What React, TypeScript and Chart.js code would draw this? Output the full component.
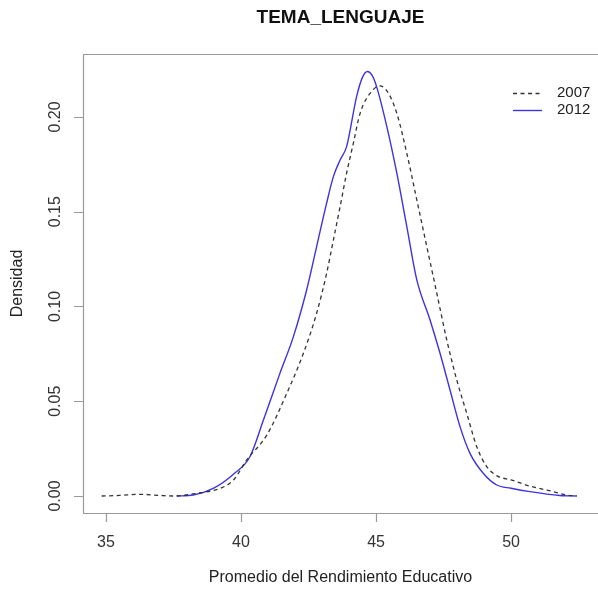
import React, { useEffect, useRef } from "react";
import { Chart, registerables } from "chart.js";

Chart.register(...registerables);

const TITLE = "TEMA_LENGUAJE";
const X_TITLE = "Promedio del Rendimiento Educativo";
const Y_TITLE = "Densidad";
const SERIES_NAMES = ["2007", "2012"];
const X_TICKS = [35, 40, 45, 50];
const Y_TICKS = [0, 0.05, 0.1, 0.15, 0.2];
const Y_TICK_LABELS = ["0.00", "0.05", "0.10", "0.15", "0.20"];

const X_2007 = [
  34.84, 35.5, 36.26, 37.0, 37.5, 38.36, 39.22, 39.72, 40.21, 40.95, 41.69, 42.31,
  42.8, 43.17, 43.42, 43.67, 43.91, 44.16, 44.41, 44.9, 45.15, 45.46, 45.77, 46.14,
  46.51, 46.88, 47.25, 47.62, 47.99, 48.36, 48.73, 49.1, 49.5, 50.0, 50.7, 51.57,
  52.06, 52.43,
];
const Y_2007 = [
  0, 0.0003, 0.0009, 0.0003, 0, 0.0014, 0.004, 0.0084, 0.019, 0.032, 0.054, 0.0753,
  0.0964, 0.1175, 0.135, 0.1527, 0.1703, 0.1861, 0.2019, 0.2145, 0.2164, 0.2125,
  0.2019, 0.1808, 0.1562, 0.1316, 0.107, 0.0823, 0.0612, 0.0436, 0.026, 0.0155,
  0.0105, 0.0085, 0.0052, 0.0023, 0.0005, 0,
];

const X_2012 = [
  37.62, 38.23, 38.97, 39.72, 40.33, 40.83, 41.44, 41.94, 42.43, 42.8, 43.17, 43.42,
  43.67, 43.91, 44.28, 44.5, 44.68, 44.85, 45.02, 45.4, 45.77, 46.14, 46.51, 47.0,
  47.37, 47.74, 48.11, 48.48, 48.97, 49.47, 50.0, 50.7, 51.81, 52.43,
];
const Y_2012 = [
  0, 0.0005, 0.004, 0.0115, 0.0207, 0.0401, 0.0647, 0.0841, 0.1087, 0.1316, 0.1545,
  0.1685, 0.1773, 0.1843, 0.2107, 0.221, 0.224, 0.222, 0.216, 0.1949, 0.1703, 0.1421,
  0.114, 0.0929, 0.0753, 0.0559, 0.0366, 0.0225, 0.012, 0.0058, 0.0041, 0.0023,
  0.0003, 0,
];

const FONT = '"Liberation Sans", Arial, Helvetica, sans-serif';

const rPlotPlugin = {
  id: "rPlot",
  afterDraw(chart: any) {
    const { ctx, chartArea: a, scales } = chart;
    const x = scales.x;
    const y = scales.y;
    ctx.save();

    // box
    ctx.strokeStyle = "#9a9a9a";
    ctx.lineWidth = 1.2;
    ctx.beginPath();
    ctx.moveTo(a.right + 2, Math.round(a.top) + 0.5);
    ctx.lineTo(Math.round(a.left) + 0.5, Math.round(a.top) + 0.5);
    ctx.lineTo(Math.round(a.left) + 0.5, Math.round(a.bottom) + 0.5);
    ctx.lineTo(a.right + 2, Math.round(a.bottom) + 0.5);
    ctx.stroke();

    // x ticks
    ctx.fillStyle = "#333";
    ctx.font = `16px ${FONT}`;
    ctx.textAlign = "center";
    ctx.textBaseline = "middle";
    ctx.beginPath();
    X_TICKS.forEach((v) => {
      const px = Math.round(x.getPixelForValue(v)) + 0.5;
      ctx.moveTo(px, a.bottom);
      ctx.lineTo(px, a.bottom + 9);
    });
    ctx.stroke();
    X_TICKS.forEach((v) => {
      ctx.fillText(String(v), x.getPixelForValue(v), 543);
    });

    // y ticks
    ctx.beginPath();
    Y_TICKS.forEach((v) => {
      const py = Math.round(y.getPixelForValue(v)) + 0.5;
      ctx.moveTo(a.left - 9, py);
      ctx.lineTo(a.left, py);
    });
    ctx.stroke();
    Y_TICKS.forEach((v, i) => {
      ctx.save();
      ctx.translate(56, y.getPixelForValue(v));
      ctx.rotate(-Math.PI / 2);
      ctx.fillText(Y_TICK_LABELS[i], 0, 0);
      ctx.restore();
    });

    // axis titles
    ctx.fillStyle = "#222";
    ctx.fillText(X_TITLE, (a.left + a.right) / 2, 578);
    ctx.save();
    ctx.translate(18, (a.top + a.bottom) / 2);
    ctx.rotate(-Math.PI / 2);
    ctx.fillText(Y_TITLE, 0, 0);
    ctx.restore();

    // main title
    ctx.font = `bold 19px ${FONT}`;
    ctx.fillStyle = "#111";
    ctx.fillText(TITLE, (a.left + a.right) / 2, 18);

    // legend
    const ds = chart.data.datasets;
    const rows = [93, 110];
    ctx.font = `15px ${FONT}`;
    ctx.textAlign = "left";
    ds.forEach((d: any, i: number) => {
      ctx.save();
      ctx.strokeStyle = d.borderColor;
      ctx.lineWidth = d.borderWidth;
      ctx.setLineDash(d.borderDash || []);
      ctx.beginPath();
      ctx.moveTo(513, rows[i] + 0.5);
      ctx.lineTo(542, rows[i] + 0.5);
      ctx.stroke();
      ctx.restore();
      ctx.fillStyle = "#222";
      ctx.fillText(d.label, 557, rows[i]);
    });

    ctx.restore();
  },
};

export default function App() {
  const ref = useRef<HTMLCanvasElement | null>(null);

  useEffect(() => {
    if (!ref.current) return;
    const chart = new Chart(ref.current, {
      type: "line",
      data: {
        datasets: [
          {
            label: SERIES_NAMES[0],
            data: X_2007.map((v, i) => ({ x: v, y: Y_2007[i] })),
            borderColor: "#333333",
            borderWidth: 1.3,
            borderDash: [4, 3.5],
            pointRadius: 0,
            fill: false,
            cubicInterpolationMode: "monotone",
          },
          {
            label: SERIES_NAMES[1],
            data: X_2012.map((v, i) => ({ x: v, y: Y_2012[i] })),
            borderColor: "#3d33e2",
            borderWidth: 1.4,
            pointRadius: 0,
            fill: false,
            cubicInterpolationMode: "monotone",
          },
        ],
      },
      options: {
        animation: false,
        responsive: false,
        devicePixelRatio: 1,
        layout: { padding: { left: 83, top: 54, right: 0, bottom: 76 } },
        plugins: {
          legend: { display: false },
          title: { display: false },
          tooltip: { enabled: false },
        },
        scales: {
          x: { type: "linear", min: 34.148, max: 53.22, display: false },
          y: { type: "linear", min: -0.00897, max: 0.2332, display: false },
        },
      },
      plugins: [rPlotPlugin],
    } as any);
    return () => chart.destroy();
  }, []);

  return (
    <div style={{ position: "absolute", left: 0, top: 0, width: 598, height: 589, background: "#fff" }}>
      <canvas ref={ref} width={598} height={589} style={{ display: "block" }} />
    </div>
  );
}
